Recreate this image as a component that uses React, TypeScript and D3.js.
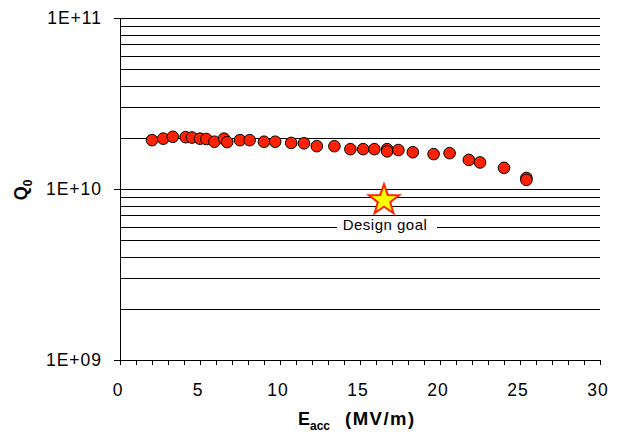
import React from 'react';
import * as d3 from 'd3';

// accelerating gradient (MV/m) and quality factor
const eacc = [2.0, 2.7, 3.3, 4.1, 4.5, 5.0, 5.4, 5.9, 6.5, 6.7, 7.5, 8.1, 9.0, 9.7, 10.7, 11.5, 12.3, 13.4, 14.4, 15.2, 15.9, 16.7, 16.7, 17.4, 18.3, 19.6, 20.6, 21.8, 22.5, 24.0, 25.4, 25.4];
const q0 = [1.93e10, 1.97e10, 2.02e10, 2.01e10, 2.0e10, 1.97e10, 1.96e10, 1.89e10, 1.97e10, 1.88e10, 1.93e10, 1.93e10, 1.89e10, 1.89e10, 1.86e10, 1.85e10, 1.78e10, 1.78e10, 1.71e10, 1.71e10, 1.71e10, 1.71e10, 1.66e10, 1.69e10, 1.64e10, 1.6e10, 1.62e10, 1.48e10, 1.43e10, 1.33e10, 1.16e10, 1.13e10];

const goalE = 16.5;
const goalQ = 8.6e9;
const goalLabel = 'Design goal';

const yTickLabels = ['1E+09', '1E+10', '1E+11'];
const yTickValues = [1e9, 1e10, 1e11];
const xTicks = [0, 5, 10, 15, 20, 25, 30];

const W = 619;
const H = 438;
const font = 'Arial, "Liberation Sans", sans-serif';

function starPath(cx: number, cy: number, ro: number, ri: number) {
  let pts: string[] = [];
  for (let i = 0; i < 10; i++) {
    const r = i % 2 === 0 ? ro : ri;
    const a = -Math.PI / 2 + (i * Math.PI) / 5;
    pts.push(`${cx + r * Math.cos(a)},${cy + r * Math.sin(a)}`);
  }
  return 'M' + pts.join('L') + 'Z';
}

export default function App() {
  const x = d3.scaleLinear().domain([0, 30]).range([120, 600]);
  const y = d3.scaleLog().domain([1e9, 1e11]).range([360, 18]);

  // gridlines at every minor log tick
  const grid: number[] = [];
  for (let dec = 1e9; dec < 1e11; dec *= 10) {
    for (let k = 2; k <= 10; k++) grid.push(dec * k);
  }
  const xMinor = d3.range(0, 31, 1);

  const gx = x(goalE);
  const gy = y(goalQ);

  return (
    <svg width={W} height={H} style={{ position: 'absolute', left: 0, top: 0, background: '#fff' }}>
      <rect x={0} y={0} width={W} height={H} fill="#fff" />
      {grid.map((g, i) => (
        <line key={i} x1={120} x2={600} y1={Math.round(y(g)) + 0.5} y2={Math.round(y(g)) + 0.5}
          stroke="#000" strokeWidth={1} shapeRendering="crispEdges" />
      ))}
      {/* label box over the grid */}
      <rect x={gx - 47} y={gy + 16} width={100} height={21} fill="#fff" />
      <text x={gx + 1} y={gy + 30} fontFamily={font} fontSize={15} letterSpacing={0.5} textAnchor="middle" fill="#000">{goalLabel}</text>

      {/* axes */}
      <line x1={120.5} x2={120.5} y1={18} y2={360} stroke="#000" shapeRendering="crispEdges" />
      <line x1={120} x2={600} y1={360.5} y2={360.5} stroke="#000" shapeRendering="crispEdges" />
      {yTickValues.map((v, i) => (
        <g key={i}>
          <line x1={114} x2={120} y1={Math.round(y(v)) + 0.5} y2={Math.round(y(v)) + 0.5} stroke="#000" shapeRendering="crispEdges" />
          <text x={102} y={y(v) + 6} fontFamily={font} fontSize={17.5} letterSpacing={1} textAnchor="end">{yTickLabels[i]}</text>
        </g>
      ))}
      {xMinor.map((v) => (
        <line key={v} x1={Math.round(x(v)) + 0.5} x2={Math.round(x(v)) + 0.5} y1={360} y2={365} stroke="#000" shapeRendering="crispEdges" />
      ))}
      {xTicks.map((v) => (
        <text key={v} x={x(v) - 2} y={396} fontFamily={font} fontSize={17.5} letterSpacing={1} textAnchor="middle">{v}</text>
      ))}

      {/* data */}
      {eacc.map((e, i) => (
        <circle key={i} cx={x(e)} cy={y(q0[i])} r={5.8} fill="#ff2200" stroke="#000" strokeWidth={1} />
      ))}
      <path d={starPath(gx, gy, 16, 6.5)} fill="#ffff00" stroke="#ff2200" strokeWidth={2} strokeLinejoin="miter" />

      {/* axis titles */}
      <text x={298} y={425} fontFamily={font} fontSize={18} fontWeight="bold">
        E<tspan fontSize={12} dy={5}>acc</tspan>
      </text>
      <text x={345} y={425} fontFamily={font} fontSize={18.5} letterSpacing={1.5} fontWeight="bold">(MV/m)</text>
      <text transform="translate(27,190) rotate(-90)" fontFamily={font} fontSize={18} fontWeight="bold" textAnchor="middle">
        Q<tspan fontSize={12} dy={5}>0</tspan>
      </text>
    </svg>
  );
}
